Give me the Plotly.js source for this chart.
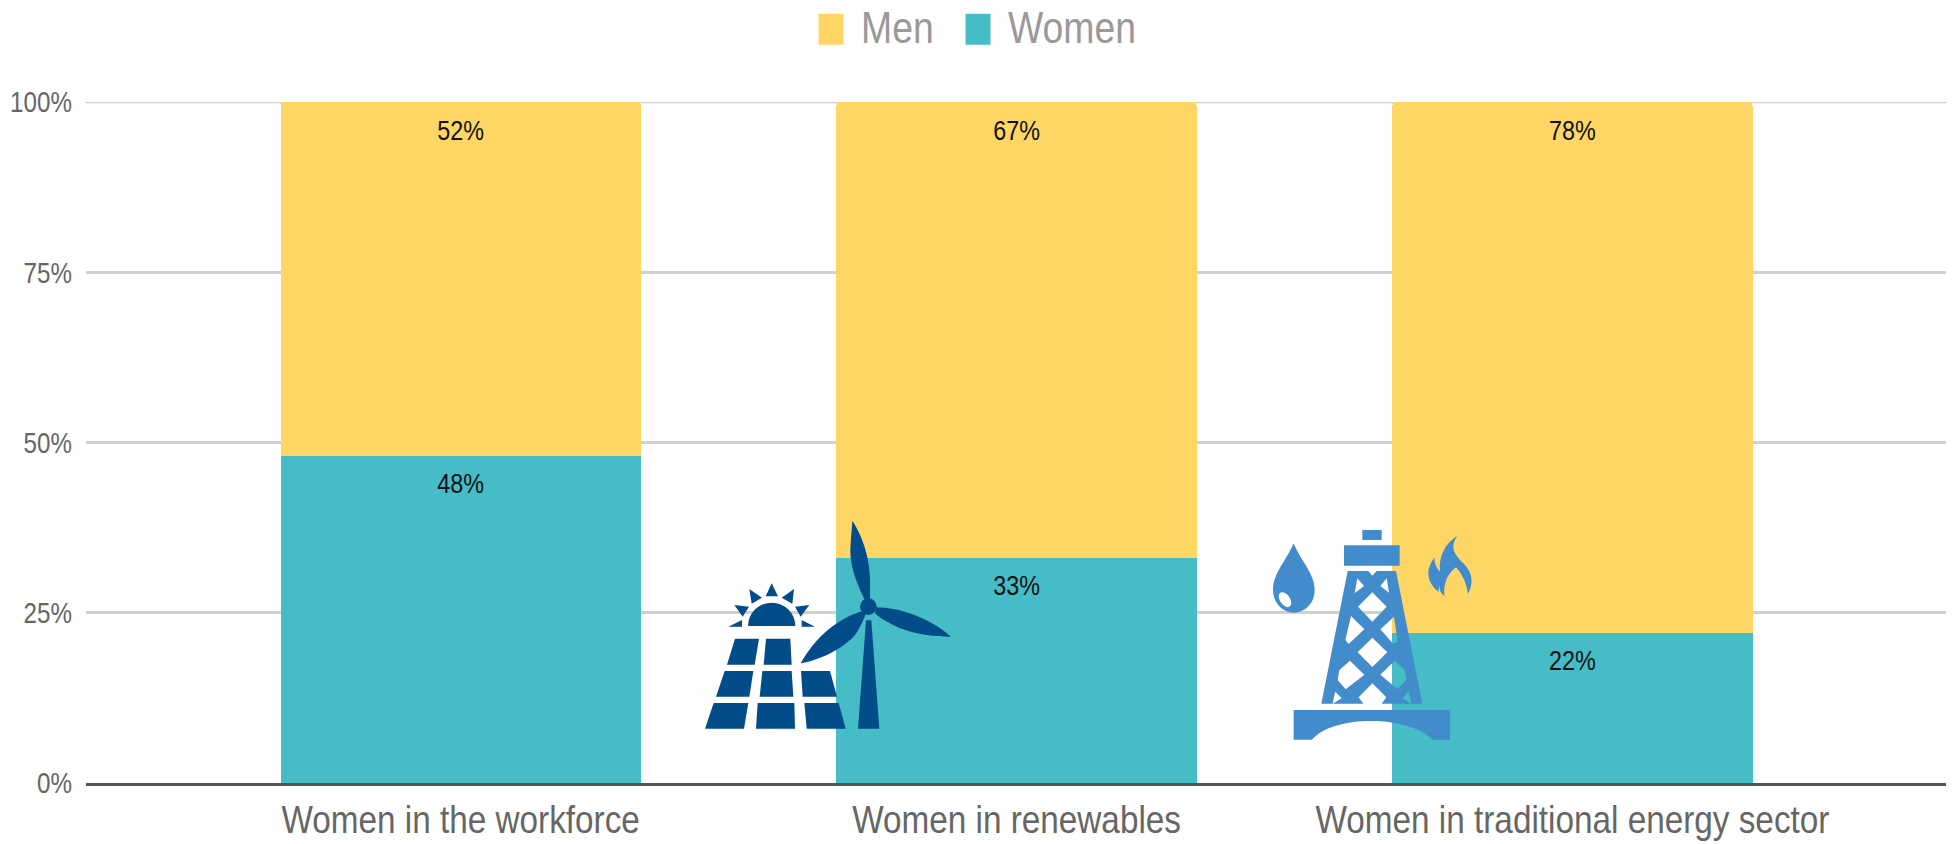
<!DOCTYPE html>
<html>
<head>
<meta charset="utf-8">
<script src="https://cdn.plot.ly/plotly-3.0.1.min.js"></script>
<style>html,body{margin:0;padding:0;background:#fff;overflow:hidden}#chart{width:1955px;height:844px}</style>
</head>
<body>
<div id="chart"></div>
<script>
const categories = ["Women in the workforce", "Women in renewables", "Women in traditional energy sector"];
const menValues = [52, 67, 78];
const womenValues = [48, 33, 22];
const yTicks = [0, 25, 50, 75, 100];
const yTickLabels = ["0%", "25%", "50%", "75%", "100%"];

const FONT = '"Liberation Sans",Arial,sans-serif';
const W = 1955, H = 844;
const M = {l: 86, r: 9, t: 102, b: 61};
const PW = W - M.l - M.r, PH = H - M.t - M.b;
const GRID = "#d0d0d0";

const solarSvg = `<svg xmlns="http://www.w3.org/2000/svg" viewBox="0 0 900 780" width="900" height="780"><g fill="#034c8a">
<path d="M204 378A71 70 0 0 1 346 378Z"/>
<path d="M275 250L257 289H294ZM208 267L246 293L215 311ZM342 267L305 293L337 311ZM163 315L207 320L188 350ZM388 315L345 320L362 350ZM186 360L145 380H186ZM365 360L405 380H365Z"/>
<path d="M165 416H237L224 494H141ZM258 416H331L335 494H251ZM134 513H220L208 590H108ZM247 513H335L340 590H239ZM363 513H450L471 590H368ZM101 609H205L192 686H75ZM233 609H343L345 686H228ZM373 609H476L497 686H380Z"/>
<circle cx="565" cy="320" r="25"/>
<path d="M558 361H574L598 686H534Z"/>
<path d="M553 298C530 250 505 190 512 130C514 100 516 80 517 62C545 105 565 160 569 220C571 250 570 280 570 298Z"/>
<path d="M588 322C660 322 750 355 813 410C750 412 670 395 630 370C610 360 595 350 585 340Z"/>
<path d="M552 332C480 350 405 410 362 490C430 478 495 440 525 405C540 385 550 360 556 345Z"/>
</g></svg>`;

const oilSvg = `<svg xmlns="http://www.w3.org/2000/svg" viewBox="0 0 750 780" width="750" height="780"><g fill="#438ccb">
<path d="M131 100C110 150 69 190 69 240C69 280 100 308 131 308C165 308 194 280 194 240C194 190 150 150 131 100Z"/>
<ellipse cx="105" cy="269" rx="15" ry="25" transform="rotate(-35 105 269)" fill="#fff"/>
<path d="M337 60H395V90H337ZM282 106H449V167H282Z"/>
<path fill-rule="evenodd" d="M293 183H355L367 197L380 183H438L517 581H214Z
M367 247L410 290L367 335L324 290Z M367 383L412 427L367 471L323 427Z
M322 205L342 228L314 250Z M410 205L391 228L417 248Z
M303 318L343 358L296 402L286 390Z M432 320L391 358L430 402L443 395Z
M300 452L343 494L287 538L263 510L268 480Z M434 452L391 494L443 538L469 510L464 480Z
M367 520L326 562L340 581H395L409 562Z
M256 545L275 565L248 581L252 560Z M476 545L458 565L484 581L480 560Z"/>
<path d="M131 600H600V689H547C510 650 430 633 365 633C290 633 220 650 186 689H131Z"/>
<path d="M622 78C600 110 610 130 640 160C670 190 670 220 654 252C650 220 635 190 618 172C595 190 580 215 583 258C570 245 567 240 570 225C567 232 565 240 567 246C550 235 535 215 535 190C535 170 545 155 553 142C553 160 560 175 570 185C565 140 585 100 622 78Z"/>
</g></svg>`;

function icon(svg, px, py, pw, ph) {
  return {
    source: "data:image/svg+xml;base64," + btoa(svg),
    xref: "paper", yref: "paper",
    x: (px - M.l) / PW, y: (H - M.b - py) / PH,
    sizex: pw / PW, sizey: ph / PH,
    xanchor: "left", yanchor: "top", sizing: "stretch", layer: "above"
  };
}

const labelFont = {family: FONT, size: 28.5, color: "#111"};
const barCommon = {
  type: "bar", x: [0, 1, 2], width: 0.648,
  textposition: "inside", insidetextanchor: "end", constraintext: "none",
  textangle: 0, insidetextfont: labelFont, textfont: labelFont, hoverinfo: "skip"
};

const traces = [
  Object.assign({}, barCommon, {name: "Women", y: womenValues, text: womenValues.map(v => v + "%"), marker: {color: "#46bcc6", line: {width: 0}}}),
  Object.assign({}, barCommon, {name: "Men", y: menValues, text: menValues.map(v => v + "%"), marker: {color: "#fed666", line: {width: 0}}})
];

const layout = {
  width: W, height: H, margin: M,
  paper_bgcolor: "#fff", plot_bgcolor: "#fff",
  barmode: "stack", barcornerradius: 4,
  showlegend: true,
  legend: {
    orientation: "h", xref: "container", yref: "container",
    x: 821 / W, xanchor: "left", y: 1 - 25.5 / H, yanchor: "middle",
    traceorder: "reversed", font: {family: FONT, size: 45, color: "#999"},
    entrywidth: 102, entrywidthmode: "pixels", itemclick: false, itemdoubleclick: false,
    bgcolor: "rgba(0,0,0,0)", borderwidth: 0
  },
  xaxis: {
    range: [-0.674, 2.672], tickvals: [0, 1, 2], ticktext: categories,
    tickfont: {family: FONT, size: 39.5, color: "#666"},
    showgrid: false, zeroline: false, showline: true, linecolor: "#555", linewidth: 3,
    ticks: "", fixedrange: true, automargin: false
  },
  yaxis: {
    range: [0, 100], tickvals: yTicks, ticktext: yTickLabels, ticklabelstandoff: 13,
    tickfont: {family: FONT, size: 29.5, color: "#666"},
    showgrid: true, gridcolor: GRID, gridwidth: 2.5, zeroline: false,
    ticks: "", fixedrange: true, automargin: false
  },
  shapes: [{type: "line", xref: "paper", x0: 0, x1: 1, yref: "y", y0: 100, y1: 100, layer: "below", line: {color: GRID, width: 2.5}}],
  images: [icon(solarSvg, 680, 500, 300, 260), icon(oilSvg, 1250, 510, 250, 260)]
};

function condense(sel, ratio) {
  document.querySelectorAll(sel).forEach(t => {
    const len = t.getComputedTextLength();
    t.setAttribute("lengthAdjust", "spacingAndGlyphs");
    t.setAttribute("textLength", (len * ratio).toFixed(1));
  });
}

Plotly.newPlot("chart", traces, layout, {displayModeBar: false}).then(gd => {
  gd.querySelectorAll(".legend .scrollbox").forEach(s => s.removeAttribute("clip-path"));
  gd.querySelectorAll(".legend .legendpoints path").forEach(p => {
    p.setAttribute("d", "M-6,-6H6V6H-6Z");
    p.setAttribute("transform", "translate(10,4) scale(2.08,2.58)");
    p.style.strokeWidth = "0";
  });
  condense(".xtick text", 0.843);
  condense(".ytick text", 0.82);
  condense(".legendtext", 0.83);
  condense(".bartext text, text.bartext", 0.82);
  gd.querySelectorAll("text.bartext").forEach(t => {
    t.setAttribute("transform", "translate(0,8) " + (t.getAttribute("transform") || ""));
  });
});
</script>
</body>
</html>
